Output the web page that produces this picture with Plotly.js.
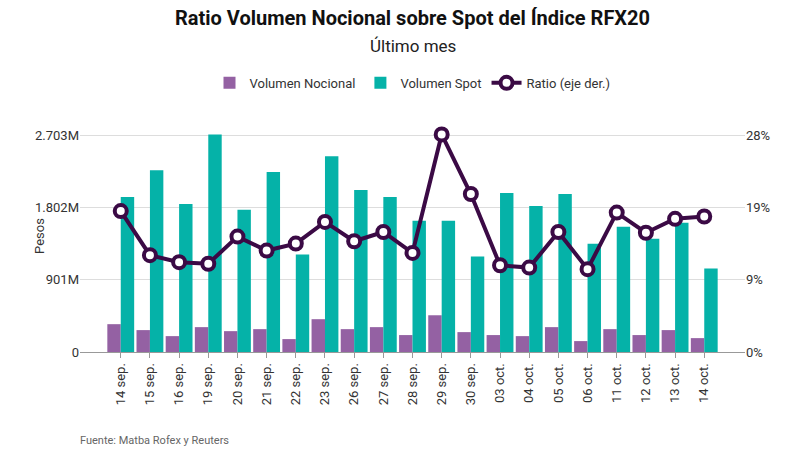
<!DOCTYPE html>
<html><head><meta charset="utf-8">
<script src="https://cdn.plot.ly/plotly-3.0.1.min.js"></script>
<style>body{margin:0}#chart{width:800px;height:457px}</style>
</head><body><div id="chart"></div>
<script>
// datos (millones de pesos y %)
var fechas = ['14 sep.','15 sep.','16 sep.','19 sep.','20 sep.','21 sep.','22 sep.','23 sep.','26 sep.','27 sep.','28 sep.','29 sep.','30 sep.','03 oct.','04 oct.','05 oct.','06 oct.','11 oct.','12 oct.','13 oct.','14 oct.'];
var nocional = [347,273,198,310,260,285,161,409,285,310,211,458,248,211,198,310,136,285,211,273,173];
var spot = [1933,2267,1846,2713,1772,2243,1214,2441,2020,1933,1635,1635,1189,1982,1821,1970,1350,1561,1412,1611,1041];
var ratio = [18.2,12.5,11.6,11.4,14.9,13.1,14.0,16.8,14.3,15.5,12.8,28.1,20.4,11.2,10.9,15.5,10.7,18.0,15.4,17.2,17.5];
var leftTicks = [0,901,1802,2703], leftText = ['0','901M','1.802M','2.703M'];
var rightTicks = [0,9.33,18.67,28], rightText = ['0%','9%','19%','28%'];

var traces = [
  {x: fechas, y: nocional, type: 'bar', name: 'Volumen Nocional', marker: {color: '#9461a3'}},
  {x: fechas, y: spot, type: 'bar', name: 'Volumen Spot', marker: {color: '#05b2a8'}},
  {x: fechas, y: ratio, type: 'scatter', mode: 'lines+markers', name: 'Ratio (eje der.)', yaxis: 'y2',
   line: {color: '#3b0a45', width: 4}, marker: {size: 12, color: '#fff', line: {color: '#3b0a45', width: 4}}}
];
var layout = {
  width: 800, height: 457,
  font: {family: 'Roboto', size: 12, color: '#333'},
  margin: {l: 80, r: 55, t: 120, b: 105},
  barmode: 'group', bargap: 0.08, bargroupgap: 0,
  showlegend: true,
  legend: {orientation: 'h', x: 0.5, xanchor: 'center', y: 1.16, yanchor: 'middle', font: {size: 13}},
  xaxis: {tickangle: -90, tickfont: {size: 13}, ticks: 'outside', ticklen: 5, tickcolor: '#999', showline: true, linecolor: '#999'},
  yaxis: {title: {text: 'Pesos', font: {size: 13}}, range: [0, 2703*1.07], tickvals: leftTicks, ticktext: leftText, gridcolor: '#ddd', zeroline: false, tickfont: {size: 13}},
  yaxis2: {overlaying: 'y', side: 'right', range: [0, 28*1.07], tickvals: rightTicks, ticktext: rightText, showgrid: false, zeroline: false, tickfont: {size: 13}},
  annotations: [
    {text: '<b>Ratio Volumen Nocional sobre Spot del Índice RFX20</b>', xref: 'paper', yref: 'paper', x: 0.5, y: 1.44, yanchor: 'middle', showarrow: false, font: {size: 20, color: '#111'}},
    {text: 'Último mes', xref: 'paper', yref: 'paper', x: 0.5, y: 1.32, yanchor: 'middle', showarrow: false, font: {size: 17, color: '#222'}},
    {text: 'Fuente: Matba Rofex y Reuters', xref: 'paper', yref: 'paper', x: -0.003, y: -0.38, xanchor: 'left', yanchor: 'middle', showarrow: false, font: {size: 11, color: '#666'}}
  ],
  plot_bgcolor: '#fff', paper_bgcolor: '#fff'
};
Plotly.newPlot('chart', traces, layout, {displayModeBar: false});
</script></body></html>
